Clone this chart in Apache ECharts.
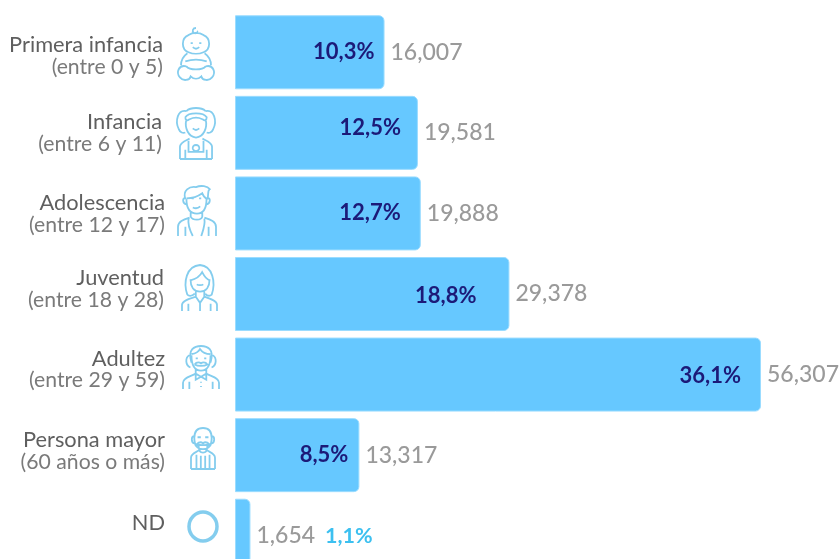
<!DOCTYPE html>
<html><head><meta charset="utf-8">
<style>html,body{margin:0;padding:0;background:#fff;overflow:hidden}#c{width:840px;height:559px}</style>
<script src="https://cdn.jsdelivr.net/npm/echarts@6/dist/echarts.min.js"></script></head>
<body><div id="c"></div>
<script>
const groups = ['Primera infancia','Infancia','Adolescencia','Juventud','Adultez','Persona mayor','ND'];
const ranges = ['(entre 0 y 5)','(entre 6 y 11)','(entre 12 y 17)','(entre 18 y 28)','(entre 29 y 59)','(60 años o más)',''];
const counts = [16007,19581,19888,29378,56307,13317,1654];
const shares = ['10,3%','12,5%','12,7%','18,8%','36,1%','8,5%','1,1%'];

// layout of the hand-placed labels, separate from the data
const labelShift = [[2,-4],[3,0],[0,-1],[1,5],[0,5],[0,4],[0,13]]; // [right, up]
const shareGap = [10,17,20,33,20,11,0];
const shareLift = [0,-5,-1,2,1,0,0];
const icons = [
 {x:178,y:28,w:36,h:52,p:'M18 0C15 0 14 3 16 5C18 6 20 4 19 3M11 7C4 10 4 21 11 24C15 26 21 26 25 24C32 21 32 10 25 7C21 4 15 4 11 7ZM13 15h2M21 15h2M15 19C17 21 19 21 21 19M10 25C6 28 4 32 4 37M26 25C30 28 32 32 32 37M8 33C14 31 22 31 28 33M9 38C2 36 -1 44 3 49C6 53 12 52 13 48C16 51 20 51 23 48C24 52 30 53 33 49C37 44 34 36 27 38M9 38C12 42 24 42 27 38'},
 {x:177,y:108,w:38,h:51,p:'M10 4C2 2 -1 14 3 22C4 25 7 26 9 25M28 4C36 2 39 14 35 22C34 25 31 26 29 25M10 4C14 0 24 0 28 4M9 10C12 5 26 5 29 10C29 13 27 14 25 12C21 10 17 10 13 12C11 14 9 13 9 10M10 12C8 21 12 29 19 30C26 29 30 21 28 12M16 21C18 23 20 23 22 21M4 51V39C4 35 9 33 13 31M34 51V39C34 35 29 33 25 31M4 51H34M12 33V44H26V33M16 41C15 36 23 36 22 41C21 44 17 44 16 41M9 51V42M29 51V42'},
 {x:178,y:186,w:38,h:50,p:'M8 14C5 5 12 1 18 2C23 0 29 1 31 4C29 5 30 9 29 14M8 13C5 12 5 18 9 19M29 13C32 12 32 18 28 19M9 13C14 13 20 11 24 8C25 11 27 13 29 14M9 14C9 21 11 28 19 28C26 28 28 21 28 14M15 22C17 23 20 23 22 21M14 13h2M21 13h2M13 26V31C15 35 23 35 24 31V26M1 50V41C1 36 6 34 12 32M37 50V41C37 36 32 34 26 32M8 50V41M30 50V41M11 33C10 39 12 44 15 50M26 33C27 39 25 44 23 50'},
 {x:182,y:265,w:35,h:46,p:'M6 30C2 18 5 2 18 1C30 2 33 18 29 30C27 32 24 31 23 29M6 30C8 32 11 31 13 29M9 16C13 15 18 12 20 8C22 12 24 15 27 16M9 15C9 22 12 27 18 27C24 27 27 22 27 15M15 20C16 21 20 21 21 20M14 27V32L18 38L22 32V27M1 46V40C1 36 8 34 14 32M34 46V40C34 36 28 34 22 32M7 46V39M28 46V39M18 38V46'},
 {x:183,y:346,w:36,h:43,p:'M9 17C5 4 12 1 18 1C24 1 31 4 27 17M7 10C3 12 3 20 8 22M29 10C33 12 33 20 28 22M9 9C14 8 16 6 17 4C19 7 23 9 27 9M9 10C9 19 11 25 18 25C25 25 27 19 27 10M12 19C14 16 17 17 18 18C19 17 22 16 24 19C21 21 15 21 12 19M13 13h2M21 13h2M13 24V28M23 24V28M1 43V37C1 32 8 31 13 28M35 43V37C35 32 28 31 23 28M7 43V36M29 43V36M13 28L18 31L23 28L23 34L18 31L13 34ZM18 36V37M18 40V41'},
 {x:191,y:428,w:24,h:41,p:'M4 11C4 3 8 1 12 1C16 1 20 3 20 11M4 9C1 9 1 15 4 16M20 9C23 9 23 15 20 16M4 9C4 14 4 18 7 20C10 22 14 22 17 20C20 18 20 14 20 9M7 10H10M14 10H17M6 17C9 14 11 15 12 16C13 15 15 14 18 17C16 18 8 18 6 17M8 18C8 23 10 25 12 25C14 25 16 23 16 18M1 41V30C1 26 5 25 8 23M23 41V30C23 26 19 25 16 23M1 41H23M6 41V27M18 41V27M10 41V28M14 41V28'},
 {x:189,y:512,w:28,h:29,p:'M14 1C21 1 27 7 27 14.500C27 22 21 28 14 28C7 28 1 22 1 14.500C1 7 7 1 14 1Z'}
];

const FONT = 'Lato';
const rich = {
  n:{fontFamily:FONT,fontSize:21.8,lineHeight:22,align:'right',color:'#5f5f5f'},
  l:{fontFamily:FONT,fontSize:21.2,lineHeight:22,align:'right',color:'#7a7a7a'}
};
const categoryItems = groups.map((g,i)=>{
  const [r,up] = labelShift[i];
  return {value:g,textStyle:{padding:[up<0?-up*2:0,r,up>0?up*2:0,0]}};
});

const chart = echarts.init(document.getElementById('c'), null, {renderer:'canvas'});
chart.setOption({
  animation:false,
  grid:{left:235,top:12,width:526,height:564,containLabel:false,outerBoundsMode:'none'},
  xAxis:{type:'value',min:0,max:56307,show:false},
  yAxis:{type:'category',inverse:true,data:categoryItems,
    axisLine:{show:false},axisTick:{show:false},
    axisLabel:{margin:70,align:'right',
      formatter:(v,i)=> ranges[i] ? `{n|${v}}\n{l|${ranges[i]}}` : `{n|${v}}`,
      rich}},
  series:[
   {type:'bar',data:counts,barWidth:74,barGap:'-100%',
    itemStyle:{color:'#66c8ff',borderRadius:[0,5,5,0],borderColor:'#9bdcff',borderWidth:1},
    label:{show:true,position:'right',distance:6,
      formatter:p=> p.dataIndex===6 ? `{v|${p.value.toLocaleString('en-US')}}   {s|${shares[6]}}` : `{v|${p.value.toLocaleString('en-US')}}`,
      rich:{v:{fontFamily:FONT,fontSize:23,color:'#9a9a9a',fontWeight:500},
            s:{fontFamily:FONT,fontSize:21.500,fontWeight:'bold',color:'#3cc0f0'}}}},
   {type:'bar',barWidth:74,barGap:'-100%',silent:true,
    data:counts.map((c,i)=>({value:c,label:{distance:shareGap[i],offset:[0,shareLift[i]]}})),
    itemStyle:{color:'transparent'},
    label:{show:true,position:'insideRight',fontFamily:FONT,fontSize:22,fontWeight:'bold',color:'#1c1a78',
      formatter:p=> p.dataIndex===6 ? '' : shares[p.dataIndex]}},
   {type:'custom',data:counts.map((c,i)=>[0,i]),silent:true,clip:false,
    renderItem:(params)=>{
      const ic = icons[params.dataIndex];
      return {type:'group',children:[{type:'path',
        shape:{pathData:ic.p,layout:'cover',x:ic.x,y:ic.y,width:ic.w,height:ic.h},
        style:{fill:'none',stroke:'#84cdee',lineWidth:params.dataIndex===6?3.5:1.8}}]};
    }}
  ]
});
</script></body></html>
